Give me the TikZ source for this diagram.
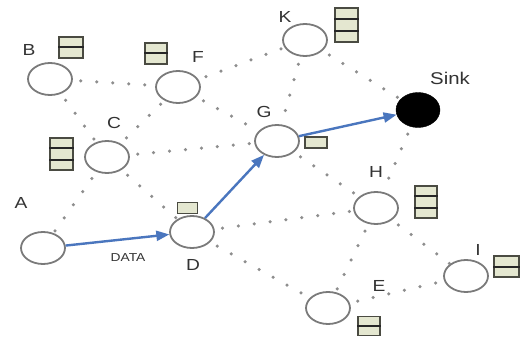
\documentclass[tikz,border=0pt]{standalone}
\usepackage{fontspec}
\setmainfont[FakeStretch=1.2]{Liberation Sans}
\usetikzlibrary{shapes.geometric,arrows.meta,calc}
\definecolor{nodeline}{HTML}{7A7A7A}
\definecolor{dotc}{HTML}{8E8E8E}
\definecolor{arrowblue}{HTML}{4A76BE}
\definecolor{buffill}{HTML}{E4E7D0}
\definecolor{bufline}{HTML}{4A4B42}
\definecolor{labc}{HTML}{333333}
\newcommand{\cellsplit}[2]{%
  \draw[divider] ($(#1.north west)!#2!(#1.south west)$) -- ($(#1.north east)!#2!(#1.south east)$);}
\begin{document}
\begin{tikzpicture}[x=1pt,y=-1pt,
  sensor/.style={ellipse, draw=nodeline, line width=1.8pt, fill=white, minimum width=44pt, minimum height=32pt, inner sep=0pt},
  sinknode/.style={ellipse, draw=black, fill=black, minimum width=44pt, minimum height=35pt, inner sep=0pt},
  lab/.style={text=labc, font=\fontsize{16}{18}\selectfont, inner sep=0pt},
  link/.style={draw=dotc, line width=3.5pt, line cap=round, dash pattern=on 0pt off 16pt, dash phase=8pt},
  route/.style={draw=arrowblue, line width=2.4pt, -{Triangle[length=13pt,width=10pt]}},
  buf/.style={rectangle, draw=bufline, line width=1.8pt, fill=buffill, inner sep=0pt},
  divider/.style={draw=black!85, line width=2pt}]
\useasboundingbox (0,0) rectangle (522,337);
\fill[white] (0,0) rectangle (522,337);
% sensor nodes
\node[sensor] (B) at (50,79) {};
\node[sensor] (F) at (178,87) {};
\node[sensor] (K) at (305,40) {};
\node[sinknode] (S) at (418,110) {};
\node[sensor] (C) at (107,157) {};
\node[sensor] (G) at (277,141) {};
\node[sensor] (A) at (43,248) {};
\node[sensor] (D) at (192,232) {};
\node[sensor] (H) at (376,208) {};
\node[sensor] (I) at (466,276) {};
\node[sensor] (E) at (328,308) {};
% dotted links
\foreach \u/\v in {B/F, B/C, C/A, C/F, C/G, C/D, F/G, F/K, K/G, K/S, S/H, G/H, D/H, D/E, H/E, H/I, E/I}
  \draw[link] (\u) -- (\v);
% routing
\draw[route] (A) -- (D);
\draw[route] (D) -- (G);
\draw[route] (G) -- (S);
% labels
\node[lab] (lB) at (29,50) {B};
\node[lab] (lF) at (198,57) {F};
\node[lab] (lK) at (285,17) {K};
\node[lab, font=\fontsize{17}{19}\selectfont] (lS) at (450,78) {Sink};
\node[lab] (lC) at (114,123) {C};
\node[lab] (lG) at (264,112) {G};
\node[lab] (lA) at (21,203) {A};
\node[lab] (lD) at (193,265) {D};
\node[lab] (lH) at (376,172) {H};
\node[lab] (lI) at (478,250) {I};
\node[lab] (lE) at (379,286) {E};
\node[lab, font=\fontsize{11.5}{13}\selectfont] (lData) at (128,258) {DATA};
% buffers
\node[buf, minimum width=24pt, minimum height=21pt] (bB) at (71,47.5) {};
\cellsplit{bB}{0.5}
\node[buf, minimum width=22pt, minimum height=21pt] (bF) at (156,53.5) {};
\cellsplit{bF}{0.5}
\node[buf, minimum width=23pt, minimum height=34pt] (bK) at (346.5,25) {};
\cellsplit{bK}{0.3333}
\cellsplit{bK}{0.6667}
\node[buf, minimum width=23pt, minimum height=32pt] (bC) at (61.5,154) {};
\cellsplit{bC}{0.3333}
\cellsplit{bC}{0.6667}
\node[buf, minimum width=22pt, minimum height=11pt] (bG) at (316,142.5) {};
\node[buf, minimum width=20pt, minimum height=11pt] (bD) at (187.5,208) {};
\node[buf, minimum width=22pt, minimum height=32pt] (bH) at (426,202) {};
\cellsplit{bH}{0.3333}
\cellsplit{bH}{0.6667}
\node[buf, minimum width=25pt, minimum height=21pt] (bI) at (506.5,266.5) {};
\cellsplit{bI}{0.5}
\node[buf, minimum width=22pt, minimum height=19pt] (bE) at (369,326) {};
\cellsplit{bE}{0.5}
\end{tikzpicture}
\end{document}
